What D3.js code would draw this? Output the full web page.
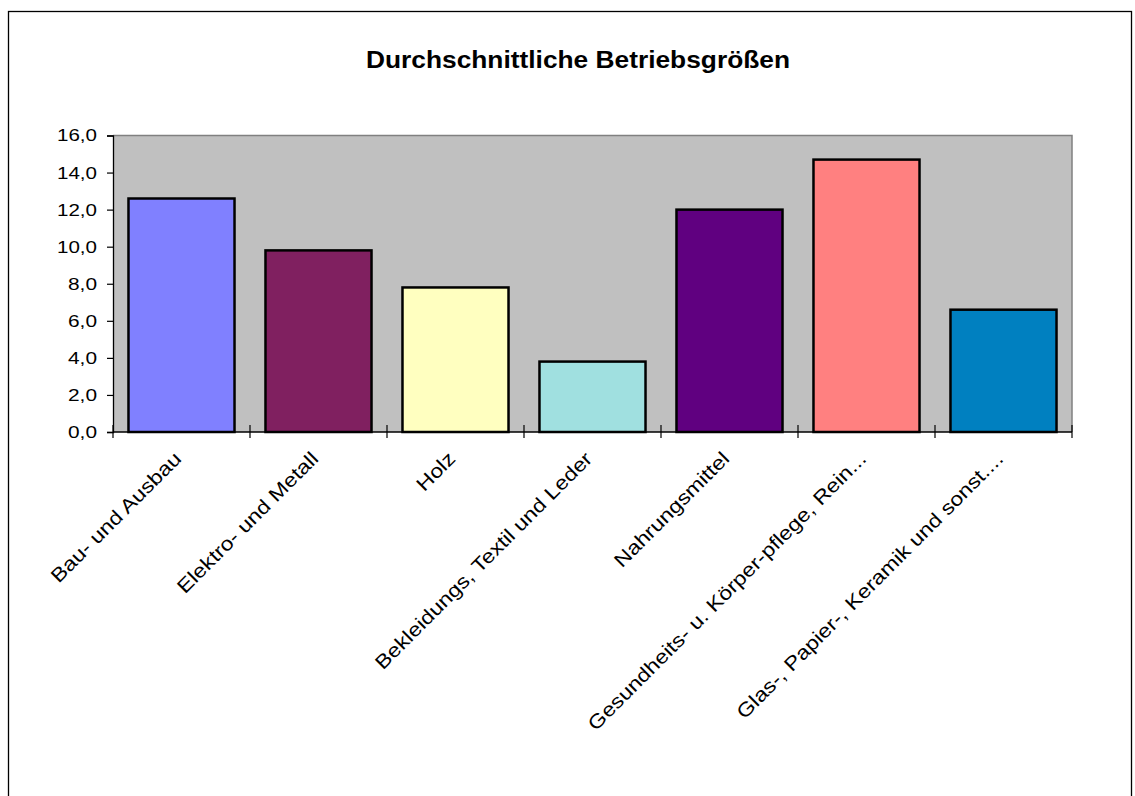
<!DOCTYPE html>
<html>
<head>
<meta charset="utf-8">
<script src="https://cdn.jsdelivr.net/npm/d3@7"></script>
<style>
  body { margin: 0; background: #fff; }
  text { font-family: Arial, "Liberation Sans", sans-serif; }
</style>
</head>
<body>
<script>
  // chart data
  var categories = ["Bau- und Ausbau", "Elektro- und Metall", "Holz",
                    "Bekleidungs, Textil und Leder", "Nahrungsmittel",
                    "Gesundheits- u. Körper-pflege, Rein...",
                    "Glas-, Papier-, Keramik und sonst...."];
  var values = [12.6, 9.8, 7.8, 3.8, 12.0, 14.7, 6.6];
  var barColors = ["#8080FF", "#802060", "#FFFFC0", "#A0E0E0", "#600080", "#FF8080", "#0080C0"];
  var yTicks = [0, 2, 4, 6, 8, 10, 12, 14, 16];

  var W = 1135, H = 796;
  var plot = {left: 113, right: 1072, top: 135.5, bottom: 432};

  var svg = d3.select("body").append("svg")
      .attr("width", W)
      .attr("height", H);

  // outer frame
  svg.append("rect")
      .attr("x", 8.5).attr("y", 11.5)
      .attr("width", 1123).attr("height", 800)
      .attr("fill", "#fff")
      .attr("stroke", "#000")
      .attr("stroke-width", 1.3);

  // title
  svg.append("text")
      .attr("x", 578)
      .attr("y", 68)
      .attr("text-anchor", "middle")
      .attr("font-size", 23)
      .attr("font-weight", "bold")
      .attr("textLength", 424)
      .attr("lengthAdjust", "spacingAndGlyphs")
      .text("Durchschnittliche Betriebsgrößen");

  var x = d3.scaleBand()
      .domain(categories)
      .range([plot.left, plot.right])
      .paddingInner(0.226)
      .paddingOuter(0.113);

  var y = d3.scaleLinear()
      .domain([0, 16])
      .range([plot.bottom, plot.top]);

  // plot area
  svg.append("rect")
      .attr("x", plot.left).attr("y", plot.top)
      .attr("width", plot.right - plot.left)
      .attr("height", plot.bottom - plot.top)
      .attr("fill", "#C0C0C0");

  svg.append("path")
      .attr("d", "M" + plot.left + "," + plot.top + "H" + plot.right + "V" + plot.bottom)
      .attr("fill", "none")
      .attr("stroke", "#808080")
      .attr("stroke-width", 1.5);

  // bars
  svg.selectAll("rect.bar")
      .data(values)
      .enter().append("rect")
      .attr("class", "bar")
      .attr("x", function(d, i) { return x(categories[i]); })
      .attr("y", function(d) { return y(d); })
      .attr("width", x.bandwidth())
      .attr("height", function(d) { return y(0) - y(d); })
      .attr("fill", function(d, i) { return barColors[i]; })
      .attr("stroke", "#000")
      .attr("stroke-width", 2.5);

  // y axis
  var yAxis = d3.axisLeft(y)
      .tickValues(yTicks)
      .tickSize(6)
      .tickPadding(10)
      .tickFormat(function(d) { return d3.format(".1f")(d).replace(".", ","); });

  var gy = svg.append("g")
      .attr("transform", "translate(" + plot.left + ",0)")
      .call(yAxis);
  gy.select(".domain").attr("stroke", "#000").attr("stroke-width", 1.3);
  gy.selectAll(".tick line").attr("stroke", "#000").attr("stroke-width", 1.2);
  gy.selectAll(".tick text")
      .attr("font-size", 17)
      .attr("font-family", "Arial, 'Liberation Sans', sans-serif")
      .attr("fill", "#000")
      .attr("textLength", function() { return this.textContent.length === 4 ? 40 : 29; })
      .attr("lengthAdjust", "spacingAndGlyphs");

  // x axis line and crossing ticks at category boundaries
  svg.append("line")
      .attr("x1", plot.left).attr("x2", plot.right)
      .attr("y1", plot.bottom).attr("y2", plot.bottom)
      .attr("stroke", "#000")
      .attr("stroke-width", 1.3);

  var bounds = d3.range(categories.length + 1).map(function(i) {
    return plot.left + i * x.step();
  });
  svg.selectAll("line.xtick")
      .data(bounds)
      .enter().append("line")
      .attr("class", "xtick")
      .attr("x1", function(d) { return d; })
      .attr("x2", function(d) { return d; })
      .attr("y1", plot.bottom - 7)
      .attr("y2", plot.bottom + 6)
      .attr("stroke", "#000")
      .attr("stroke-width", 1.2);

  // rotated category labels
  svg.selectAll("text.cat")
      .data(categories)
      .enter().append("text")
      .attr("class", "cat")
      .attr("transform", function(d) {
        var cx = x(d) + x.bandwidth() / 2;
        return "translate(" + (cx + 1) + "," + (plot.bottom + 28) + ") rotate(-45) scale(1.17,1)";
      })
      .attr("text-anchor", "end")
      .attr("font-size", 19.5)
      .attr("fill", "#000")
      .text(function(d) { return d; });
</script>
</body>
</html>
